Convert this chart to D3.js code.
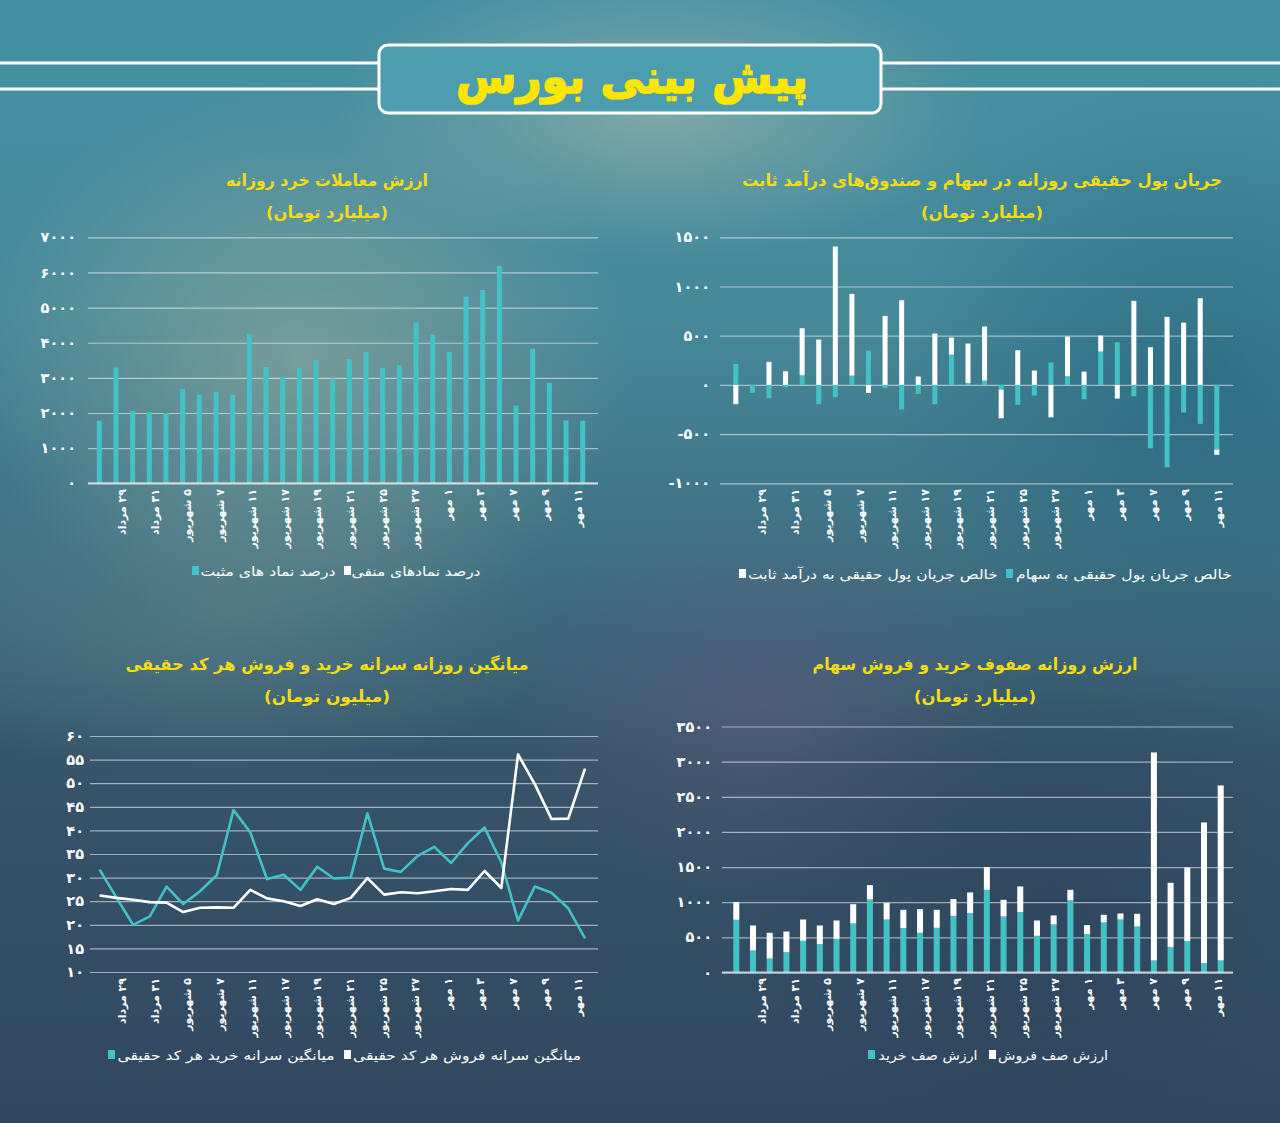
<!DOCTYPE html>
<html><head><meta charset="utf-8">
<script src="https://cdn.jsdelivr.net/npm/d3@7"></script>
<style>
html,body{margin:0;padding:0;background:#3a6f82;}
svg{display:block;}
text{font-family:"DejaVu Sans",sans-serif;}
</style></head><body>
<svg id="c" width="1280" height="1123"></svg>
<script>
// ---------- DATA ----------
const tickLabels = ["۲۹ مرداد","۳۱ مرداد","۵ شهریور","۷ شهریور","۱۱ شهریور","۱۷ شهریور","۱۹ شهریور","۲۱ شهریور","۲۵ شهریور","۲۷ شهریور","۱ مهر","۳ مهر","۷ مهر","۹ مهر","۱۱ مهر"];
const days = d3.range(30); // 30 trading days, every second one labelled

// chart 1: retail trading value (billion toman)
const retailValue = [1780,3290,2060,2030,2000,2690,2520,2600,2520,4240,3310,3030,3290,3510,2980,3540,3740,3280,3360,4580,4230,3740,5310,5500,6180,2210,3830,2860,1790,1780];

// chart 2: real money flow (billion toman)
const realFlowStock = [213,-81,-135,-24,98,-196,-125,95,349,-34,-251,-91,-196,308,20,44,-47,-203,-108,227,88,-146,339,434,-115,-644,-837,-281,-396,-657];
const realFlowFixed = [-196,0,234,139,478,461,1406,830,-81,701,860,85,522,173,400,549,-292,352,146,-329,403,135,162,-139,854,383,691,633,881,-54];

// chart 3: per-code average buy / sell (million toman)
const buyPerCode  = [31.7,25.8,20.0,21.8,28.1,24.4,27.1,30.5,44.3,39.6,29.7,30.6,27.4,32.3,29.8,30.0,43.6,31.9,31.2,34.6,36.5,33.1,37.3,40.6,33.2,20.9,28.1,26.8,23.5,17.1];
const sellPerCode = [26.2,25.7,25.3,24.8,24.7,22.7,23.6,23.7,23.6,27.4,25.6,25.0,24.0,25.4,24.4,25.7,29.9,26.4,26.9,26.7,27.1,27.6,27.4,31.4,27.8,56.1,49.8,42.4,42.5,53.1];

// chart 4: buy / sell queue value (billion toman)
const buyQueue  = [750,313,199,289,451,403,479,697,1039,754,631,565,636,806,844,1176,797,859,522,683,1025,546,712,754,655,171,361,446,133,171];
const sellQueue = [251,356,366,294,303,266,261,275,204,237,261,336,256,238,295,323,237,365,218,128,151,128,109,86,180,2960,915,1048,2002,2490];

const yTicks1 = [0,1000,2000,3000,4000,5000,6000,7000];
const yTicks2 = [-1000,-500,0,500,1000,1500];
const yTicks3 = [10,15,20,25,30,35,40,45,50,55,60];
const yTicks4 = [0,500,1000,1500,2000,2500,3000,3500];

// ---------- STYLE ----------
const TEAL = "#43c2c5", WHITE = "#ffffff", YEL = "#f4dc12";
const fa = s => String(s).replace(/\d/g, d => "۰۱۲۳۴۵۶۷۸۹"[d]);

const svg = d3.select("#c");
const defs = svg.append("defs");

function lin(id, stops, x1=0,y1=0,x2=0,y2=1){
  const g = defs.append("linearGradient").attr("id",id).attr("x1",x1).attr("y1",y1).attr("x2",x2).attr("y2",y2);
  stops.forEach(s=>g.append("stop").attr("offset",s[0]).attr("stop-color",s[1]).attr("stop-opacity",s[2]===undefined?1:s[2]));
}
function rad(id, col, op){
  const g = defs.append("radialGradient").attr("id",id);
  g.append("stop").attr("offset",0).attr("stop-color",col).attr("stop-opacity",op);
  g.append("stop").attr("offset",1).attr("stop-color",col).attr("stop-opacity",0);
}
lin("bg", [[0,"#4490a3"],[0.28,"#468999"],[0.5,"#3f7082"],[0.68,"#36546a"],[1,"#30485f"]]);
rad("r1","#a6b9ae",0.6);
rad("r2","#98aca0",0.6);
rad("r3","#1f5f7a",0.55);
rad("r4","#665c80",0.45);
rad("r5","#6a8a8e",0.45);
rad("r6","#2a4058",0.5);

svg.append("rect").attr("width",1280).attr("height",1123).attr("fill","url(#bg)");
[[660,110,330,150,"r1"],[300,360,330,280,"r2"],[1200,380,320,300,"r3"],[760,700,260,200,"r4"],[220,620,340,170,"r5"],[1050,900,330,250,"r6"]]
  .forEach(([cx,cy,rx,ry,id])=>svg.append("ellipse").attr("cx",cx).attr("cy",cy).attr("rx",rx).attr("ry",ry).attr("fill",`url(#${id})`));

// ---------- HEADER ----------
[63,89].forEach(y=>{
  svg.append("line").attr("x1",0).attr("x2",379).attr("y1",y).attr("y2",y).attr("stroke","#fff").attr("stroke-width",3);
  svg.append("line").attr("x1",881).attr("x2",1280).attr("y1",y).attr("y2",y).attr("stroke","#fff").attr("stroke-width",3);
});
svg.append("rect").attr("x",379).attr("y",45).attr("width",502).attr("height",68).attr("rx",9)
  .attr("fill","#4c9dad").attr("stroke","#fff").attr("stroke-width",3);
svg.append("text").attr("x",632).attr("y",93).attr("text-anchor","middle")
  .attr("fill","#ffe600").attr("stroke","#ffe600").attr("stroke-width",1.6).attr("font-size",46).attr("font-weight","bold")
  .attr("textLength",352).attr("lengthAdjust","spacingAndGlyphs").text("پیش بینی بورس");

// ---------- HELPERS ----------
function titles(cx, t1, w1, t2, w2, y){
  svg.append("text").attr("x",cx).attr("y",y).attr("text-anchor","middle").attr("fill",YEL)
    .attr("font-size",16.5).attr("font-weight","bold").attr("textLength",w1).attr("lengthAdjust","spacingAndGlyphs").text(t1);
  svg.append("text").attr("x",cx).attr("y",y+32).attr("text-anchor","middle").attr("fill",YEL)
    .attr("font-size",16.5).attr("font-weight","bold").attr("textLength",w2).attr("lengthAdjust","spacingAndGlyphs").text(t2);
}
function yAxis(y, ticks, gl, gr, pad){
  const g = svg.append("g").attr("transform",`translate(${gl},0)`)
    .call(d3.axisLeft(y).tickValues(ticks).tickSize(-(gr-gl)).tickPadding(pad).tickFormat(fa));
  g.select(".domain").remove();
  g.selectAll(".tick line").attr("stroke","rgba(235,240,240,0.6)").attr("stroke-width",1.2);
  g.selectAll(".tick text").attr("fill","#fff").attr("font-size",14.5).attr("font-weight","bold")
    .attr("font-family","DejaVu Sans").attr("direction","ltr");
  return g;
}
function xLabels(range, yTop){
  const lx = d3.scalePoint().domain(tickLabels).range(range);
  svg.append("g").selectAll("text").data(tickLabels).join("text")
    .attr("transform",d=>`translate(${lx(d)},${yTop}) rotate(-90)`)
    .attr("dy","0.36em").attr("direction","rtl").attr("text-anchor","start")
    .attr("fill","#fff").attr("font-size",11).attr("font-weight","bold").text(d=>d);
}
function legend(items, y){
  items.forEach(it=>{
    svg.append("rect").attr("x",it.sx).attr("y",y-5).attr("width",7).attr("height",9).attr("fill",it.c);
    svg.append("text").attr("x",it.tx).attr("y",y+5).attr("text-anchor","middle").attr("fill","#fff")
      .attr("font-size",13).attr("textLength",it.w).attr("lengthAdjust","spacingAndGlyphs").text(it.t);
  });
}

// ---------- CHART 1 ----------
{
  const gl=88, gr=598;
  const x = d3.scalePoint().domain(days).range([99.3,582.7]);
  const y = d3.scaleLinear().domain([0,7000]).range([483.3,237.3]);
  titles(327,"ارزش معاملات خرد روزانه",202,"(میلیارد تومان)",122,186);
  yAxis(y,yTicks1,gl,gr,12);
  svg.append("g").selectAll("rect").data(retailValue).join("rect")
    .attr("x",(d,i)=>x(i)-2.5).attr("width",5)
    .attr("y",d=>y(d)).attr("height",d=>y(0)-y(d)).attr("fill",TEAL);
  svg.append("line").attr("x1",gl).attr("x2",gr).attr("y1",y(0)).attr("y2",y(0)).attr("stroke","rgba(225,230,230,0.8)").attr("stroke-width",2);
  xLabels([122,578],489);
  legend([{sx:192,c:TEAL,tx:268,w:135,t:"درصد نماد های مثبت"},{sx:344,c:WHITE,tx:416,w:129,t:"درصد نمادهای منفی"}],571);
}

// ---------- CHART 2 ----------
{
  const gl=720, gr=1233;
  const x = d3.scalePoint().domain(days).range([735.8,1216.8]);
  const y = d3.scaleLinear().domain([-1000,1500]).range([483.3,237.3]);
  titles(982,"جریان پول حقیقی روزانه در سهام و صندوق‌های درآمد ثابت",480,"(میلیارد تومان)",122,186);
  yAxis(y,yTicks2,gl,gr,10);
  const rows = days.map(i=>({stock:realFlowStock[i], fixed:realFlowFixed[i]}));
  const series = d3.stack().keys(["stock","fixed"]).offset(d3.stackOffsetDiverging)(rows);
  const col = {stock:TEAL, fixed:WHITE};
  svg.append("g").selectAll("g").data(series).join("g").attr("fill",s=>col[s.key])
    .selectAll("rect").data(s=>s).join("rect")
    .attr("x",(d,i)=>x(i)-2.5).attr("width",5)
    .attr("y",d=>y(Math.max(d[0],d[1]))).attr("height",d=>Math.abs(y(d[0])-y(d[1])));
  xLabels([762,1218],489);
  legend([{sx:739,c:WHITE,tx:873,w:250,t:"خالص جریان پول حقیقی به درآمد ثابت"},{sx:1006,c:TEAL,tx:1124,w:216,t:"خالص جریان پول حقیقی به سهام"}],574);
}

// ---------- CHART 3 ----------
{
  const gl=90, gr=598;
  const x = d3.scalePoint().domain(days).range([99.6,585]);
  const y = d3.scaleLinear().domain([10,60]).range([972,736]);
  titles(327,"میانگین روزانه سرانه خرید و فروش هر کد حقیقی",403,"(میلیون تومان)",126,670);
  yAxis(y,yTicks3,gl,gr,6);
  const line = d3.line().x((d,i)=>x(i)).y(d=>y(d));
  svg.append("path").datum(buyPerCode).attr("d",line).attr("fill","none").attr("stroke",TEAL).attr("stroke-width",2.6).attr("stroke-linejoin","round");
  svg.append("path").datum(sellPerCode).attr("d",line).attr("fill","none").attr("stroke",WHITE).attr("stroke-width",2.6).attr("stroke-linejoin","round");
  xLabels([122,578],978);
  legend([{sx:108,c:TEAL,tx:226,w:217,t:"میانگین سرانه خرید هر کد حقیقی"},{sx:344,c:WHITE,tx:467,w:228,t:"میانگین سرانه فروش هر کد حقیقی"}],1055);
}

// ---------- CHART 4 ----------
{
  const gl=722, gr=1233;
  const x = d3.scalePoint().domain(days).range([736.3,1220.7]);
  const y = d3.scaleLinear().domain([0,3500]).range([972.5,726.5]);
  titles(975,"ارزش روزانه صفوف خرید و فروش سهام",325,"(میلیارد تومان)",122,670);
  yAxis(y,yTicks4,gl,gr,10);
  const rows = days.map(i=>({buy:buyQueue[i], sell:sellQueue[i]}));
  const series = d3.stack().keys(["buy","sell"])(rows);
  const col = {buy:TEAL, sell:WHITE};
  svg.append("g").selectAll("g").data(series).join("g").attr("fill",s=>col[s.key])
    .selectAll("rect").data(s=>s).join("rect")
    .attr("x",(d,i)=>x(i)-3).attr("width",6)
    .attr("y",d=>y(d[1])).attr("height",d=>y(d[0])-y(d[1]));
  svg.append("line").attr("x1",gl).attr("x2",gr).attr("y1",y(0)).attr("y2",y(0)).attr("stroke","rgba(225,230,230,0.8)").attr("stroke-width",2);
  xLabels([762,1218],978);
  legend([{sx:868,c:TEAL,tx:928,w:99,t:"ارزش صف خرید"},{sx:989,c:WHITE,tx:1053,w:110,t:"ارزش صف فروش"}],1055);
}
</script>
</body></html>
